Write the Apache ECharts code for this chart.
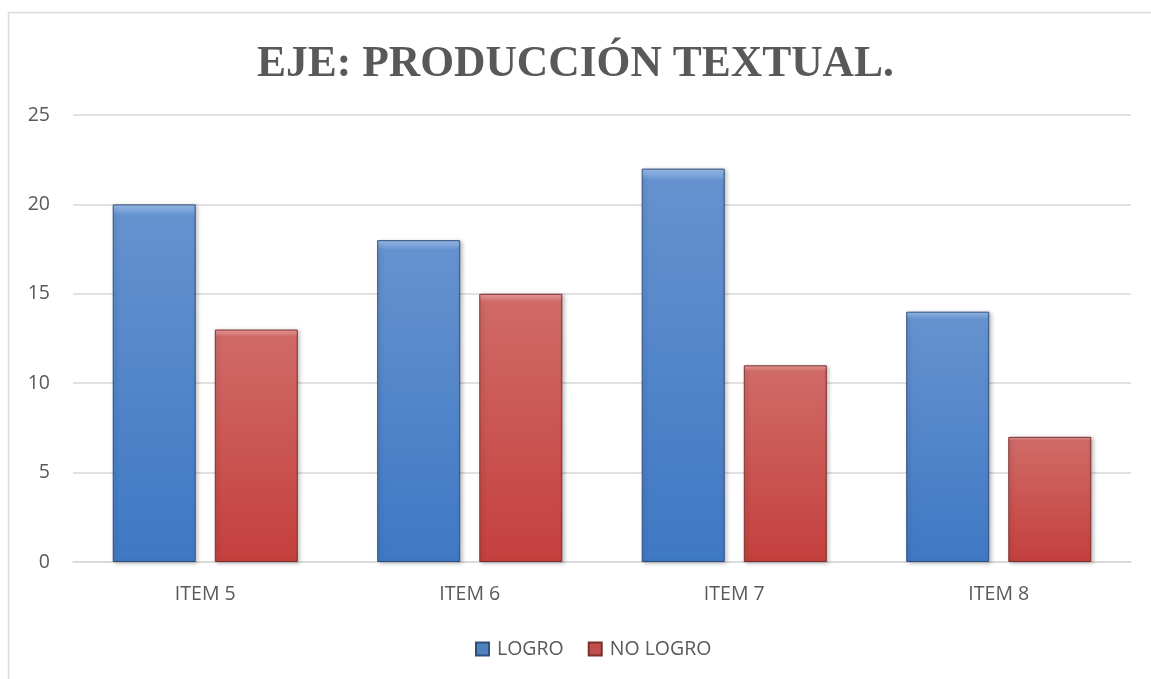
<!DOCTYPE html>
<html>
<head>
<meta charset="utf-8">
<script src="https://cdn.jsdelivr.net/npm/echarts@6/dist/echarts.min.js"></script>
<style>html,body{margin:0;padding:0;background:#fff;}#c{width:1151px;height:679px;}</style>
</head>
<body>
<div id="c"></div>
<script>
const categories = ['ITEM 5', 'ITEM 6', 'ITEM 7', 'ITEM 8'];
const logro = [20, 18, 22, 14];
const noLogro = [13, 15, 11, 7];
const yTicks = { min: 0, max: 25, interval: 5 };
const titleText = 'EJE: PRODUCCIÓN TEXTUAL.';

const chart = echarts.init(document.getElementById('c'));
function vgrad(top, mid, bottom) {
  return new echarts.graphic.LinearGradient(0, 0, 0, 1, [
    { offset: 0, color: top },
    { offset: 0.03, color: mid },
    { offset: 1, color: bottom }
  ]);
}
chart.setOption({
  animation: false,
  graphic: [{
    type: 'rect', silent: true,
    shape: { x: 8.5, y: 12.5, width: 1200, height: 800 },
    style: { fill: 'none', stroke: '#d9d9d9', lineWidth: 1.5 }
  }],
  title: {
    text: titleText, left: 'center', top: 38,
    textStyle: { fontFamily: 'Liberation Serif', fontWeight: 'bold', fontSize: 43.5, color: '#595959' }
  },
  legend: {
    top: 634, left: 470, itemWidth: 13, itemHeight: 13, itemGap: 24,
    icon: 'rect',
    textStyle: { fontFamily: 'Open Sans', fontSize: 19.5, color: '#595959', padding: [0, 0, 0, 3] },
    data: [
      { name: 'LOGRO', itemStyle: { color: '#4f81bd' } },
      { name: 'NO LOGRO', itemStyle: { color: '#c0504d' } }
    ]
  },
  grid: { left: 73, right: 20, top: 115, bottom: 117 },
  xAxis: {
    type: 'category', data: categories,
    axisLine: { lineStyle: { color: '#d9d9d9', width: 1.5 } },
    axisTick: { show: false },
    axisLabel: { fontFamily: 'Open Sans', fontSize: 19.5, color: '#595959', margin: 22 }
  },
  yAxis: {
    type: 'value', min: yTicks.min, max: yTicks.max, interval: yTicks.interval,
    axisLine: { show: false }, axisTick: { show: false },
    splitLine: { lineStyle: { color: '#d9d9d9', width: 1.5 } },
    axisLabel: { fontFamily: 'Open Sans', fontSize: 19.5, color: '#595959', margin: 23, align: 'right' }
  },
  series: [
    {
      name: 'LOGRO', type: 'bar', data: logro, barWidth: 83, barGap: '23%',
      itemStyle: {
        color: vgrad('#9cc0ec', '#6592cf', '#3f78c4'),
        borderColor: '#2f4f7d', borderWidth: 1,
        shadowColor: 'rgba(0,0,0,0.25)', shadowBlur: 4, shadowOffsetX: 2, shadowOffsetY: 1
      }
    },
    {
      name: 'NO LOGRO', type: 'bar', data: noLogro, barWidth: 83,
      itemStyle: {
        color: vgrad('#f0a3a1', '#d06a67', '#c4403d'),
        borderColor: '#7d2f2d', borderWidth: 1,
        shadowColor: 'rgba(0,0,0,0.25)', shadowBlur: 4, shadowOffsetX: 2, shadowOffsetY: 1
      }
    }
  ]
});
</script>
</body>
</html>
